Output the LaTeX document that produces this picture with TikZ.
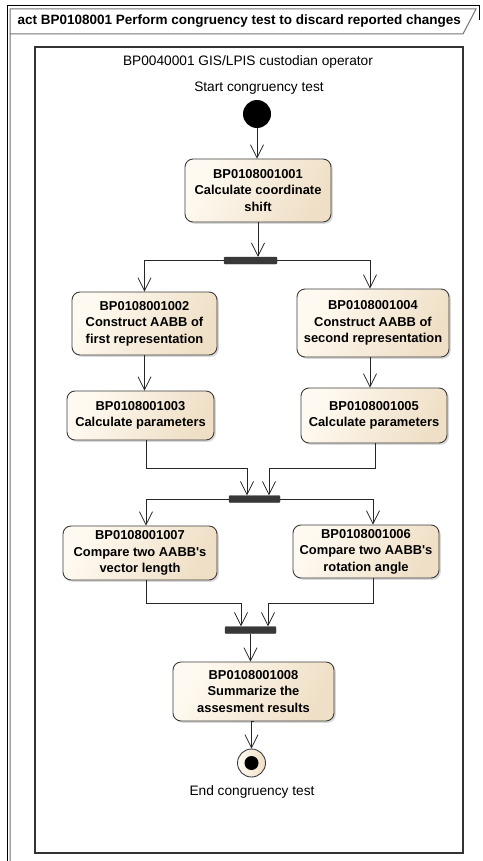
\documentclass[tikz,border=0pt]{standalone}
\usepackage{fontspec}
\setmainfont{Liberation Sans}
\usetikzlibrary{arrows.meta,shadows}

\definecolor{actlight}{HTML}{FFFAF1}
\definecolor{actdark}{HTML}{EFDFC6}
\definecolor{barfill}{HTML}{383838}
\definecolor{edge}{HTML}{3C3C3C}

\tikzset{
  action/.style={draw=edge, line width=0.9pt, rounded corners=8pt,
    left color=actlight, right color=actdark, shading angle=60,
    font=\bfseries\fontsize{12.9}{16.5}\selectfont, align=center,
    inner xsep=1pt, inner ysep=2pt,
    drop shadow={shadow xshift=1.8pt, shadow yshift=-1.8pt, opacity=0.25, fill=black!60}},
  forkbar/.style={fill=barfill, draw=barfill, rounded corners=1pt, inner sep=0pt,
    minimum height=7pt},
  flow/.style={draw=black!85, line width=0.8pt,
    -{Straight Barb[length=13pt, width=13pt]}},
  plain/.style={font=\fontsize{13.7}{15}\selectfont},
}

\begin{document}
\begin{tikzpicture}[x=1pt, y=-1pt]
  \useasboundingbox (0,0) rectangle (482,861);

  % outer frame of the activity
  \draw[black, line width=1pt] (7,861) -- (7,6) -- (479,6) -- (479,20);
  \draw[black!55, line width=1pt] (10,861) -- (10,9) -- (476,9) -- (463,34) -- (10,34);
  \node[anchor=west, font=\bfseries\fontsize{13.5}{15}\selectfont] (title) at (14,21.5)
    {act BP0108001 Perform congruency test to discard reported changes};

  % swimlane / partition
  \draw[black!80, line width=1.2pt] (35,47) rectangle (463,853);
  \node[plain] (lane) at (248,62) {BP0040001 GIS/LPIS custodian operator};

  % initial node
  \node[plain] (startlbl) at (259,88) {Start congruency test};
  \node[circle, fill=black, minimum size=28pt, inner sep=0pt] (start) at (257,114) {};

  % actions
  \node[action, minimum width=146pt, minimum height=63pt] (b1) at (258,190.5)
    {BP0108001001\\Calculate coordinate\\shift};
  \node[forkbar, minimum width=53pt] (bar1) at (250.5,260.5) {};

  \node[action, minimum width=145pt, minimum height=63pt] (b2) at (144.5,323.5)
    {BP0108001002\\Construct AABB of\\first representation};
  \node[action, minimum width=152pt, minimum height=68pt] (b4) at (373,323)
    {BP0108001004\\Construct AABB of\\second representation};

  \node[action, minimum width=147pt, minimum height=49pt] (b3) at (140.5,415.5)
    {BP0108001003\\Calculate parameters};
  \node[action, minimum width=146pt, minimum height=55pt] (b5) at (374,415.5)
    {BP0108001005\\Calculate parameters};

  \node[forkbar, minimum width=51pt] (bar2) at (254.5,499) {};

  \node[action, minimum width=154pt, minimum height=54pt] (b7) at (140,553)
    {BP0108001007\\Compare two AABB\textquotesingle s\\vector length};
  \node[action, minimum width=146pt, minimum height=53pt] (b6) at (366,551.5)
    {BP0108001006\\Compare two AABB\textquotesingle s\\rotation angle};

  \node[forkbar, minimum width=51pt] (bar3) at (250.5,630) {};

  \node[action, minimum width=161pt, minimum height=59pt] (b8) at (253.5,691.5)
    {BP0108001008\\Summarize the\\assesment results};

  % final node
  \node[circle, draw=edge, line width=0.9pt, left color=actlight, right color=actdark,
    minimum size=28pt, inner sep=0pt] (end) at (251.5,763) {};
  \fill[black] (end.center) circle[radius=7pt];
  \node[plain] (endlbl) at (252,792) {End congruency test};

  % control flows
  \draw[flow] (start) -- (start |- b1.north);
  \draw[flow] (b1.south) -- (b1.south |- bar1.north);

  \draw[flow] (bar1.west) -| (b2.north);
  \draw[flow] (bar1.east) -| ([xshift=-3pt]b4.north);

  \draw[flow] (b2.south) -- (b2.south |- b3.north);
  \draw[flow] ([xshift=-3pt]b4.south) -- ([xshift=-3pt]b4.south |- b5.north);

  \draw[flow] ([xshift=5.5pt]b3.south) -- ++(0,28) -| ([xshift=-7.5pt]bar2.north);
  \draw[flow] ([xshift=1pt]b5.south) -- ++(0,25) -| ([xshift=14.5pt]bar2.north);

  \draw[flow] (bar2.west) -| ([xshift=6pt]b7.north);
  \draw[flow] (bar2.east) -| ([xshift=7pt]b6.north);

  \draw[flow] ([xshift=6pt]b7.south) -- ++(0,23) -| ([xshift=-9.5pt]bar3.north);
  \draw[flow] ([xshift=7pt]b6.south) -- ++(0,25) -| ([xshift=17.5pt]bar3.north);

  \draw[flow] (bar3.south) -- (bar3.south |- b8.north);
  \draw[flow] (b8.south) -- (b8.south -| end) -- (end.north);
\end{tikzpicture}
\end{document}
